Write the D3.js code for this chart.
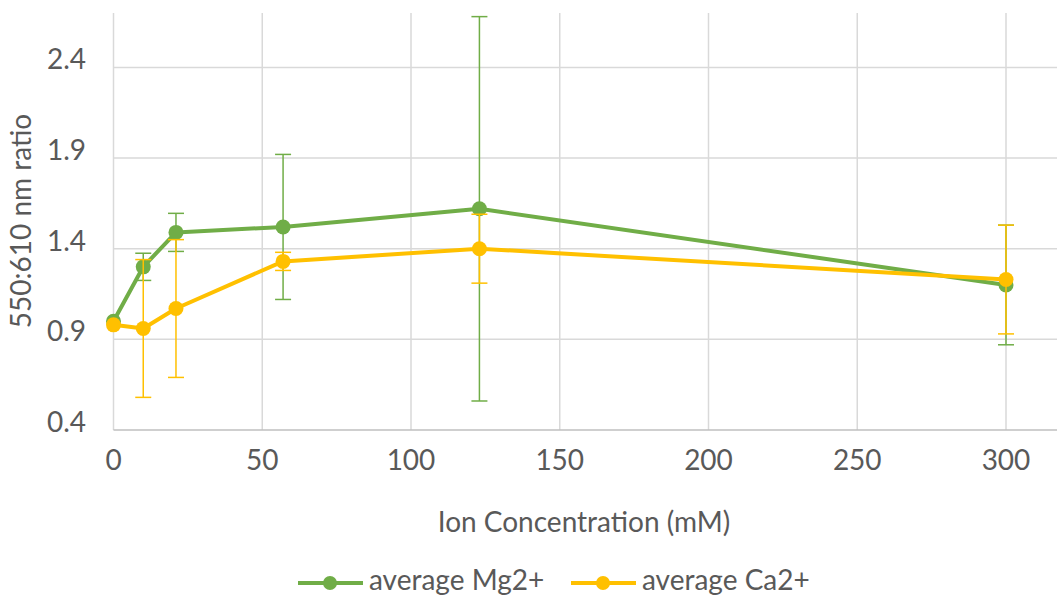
<!DOCTYPE html>
<html>
<head>
<meta charset="utf-8">
<script src="https://cdn.jsdelivr.net/npm/d3@7"></script>
<style>
  html, body { margin: 0; padding: 0; background: #fff; }
  text { font-family: Lato, "Open Sans", sans-serif; fill: #595959; }
</style>
</head>
<body>
<svg id="chart" width="1057" height="600"></svg>
<script>

// DATA
// --------------------------------------------------------------------------

var concentrations = [0, 10, 21, 57, 123, 300];

var mgMeans  = [1.00, 1.30, 1.49, 1.52, 1.62, 1.20];
var mgErrors = [0.00, 0.075, 0.105, 0.40, 1.06, 0.33];

var caMeans  = [0.98, 0.96, 1.07, 1.33, 1.40, 1.23];
var caErrors = [0.00, 0.38, 0.38, 0.05, 0.19, 0.30];

var xTicks = [0, 50, 100, 150, 200, 250, 300];
var yTicks = [0.4, 0.9, 1.4, 1.9, 2.4];

var seriesNames = ['average Mg2+', 'average Ca2+'];
var seriesColors = ['#70AD47', '#FFC000'];


// LAYOUT
// --------------------------------------------------------------------------

var svg = d3.select('#chart');

var plotLeft = 113.5, plotTop = 13, plotBottom = 430;
var xPer = (1006 - plotLeft) / 300;
var fontSize = 28;

var x = d3.scaleLinear().domain([0, 320]).range([plotLeft, plotLeft + 320 * xPer]);
var y = d3.scaleLinear().domain([0.4, 2.7]).range([plotBottom, plotTop]);

var series = seriesNames.map(function(name, i) {
  var means = i == 0 ? mgMeans : caMeans;
  var errs = i == 0 ? mgErrors : caErrors;
  return {
    name: name,
    color: seriesColors[i],
    points: concentrations.map(function(c, j) {
      return { x: c, y: means[j], e: errs[j] };
    })
  };
});


// GRID
// --------------------------------------------------------------------------

var grid = svg.append('g').attr('stroke', '#D9D9D9').attr('stroke-width', 1.5);

grid.selectAll('line.h').data(yTicks.slice(1)).enter().append('line')
  .attr('x1', plotLeft).attr('x2', 1057)
  .attr('y1', function(d) { return y(d); })
  .attr('y2', function(d) { return y(d); });

grid.selectAll('line.v').data(xTicks).enter().append('line')
  .attr('y1', plotTop).attr('y2', plotBottom)
  .attr('x1', function(d) { return x(d); })
  .attr('x2', function(d) { return x(d); });

// Bottom axis line.
svg.append('line')
  .attr('x1', plotLeft).attr('x2', 1057)
  .attr('y1', plotBottom).attr('y2', plotBottom)
  .attr('stroke', '#BFBFBF').attr('stroke-width', 1.5);


// TICK LABELS
// --------------------------------------------------------------------------

svg.append('g').selectAll('text').data(yTicks).enter().append('text')
  .attr('x', 86)
  .attr('y', function(d) { return y(d) - 5; })
  .attr('text-anchor', 'end')
  .attr('dominant-baseline', 'middle')
  .attr('font-size', fontSize)
  .text(d3.format('.1f'));

svg.append('g').selectAll('text').data(xTicks).enter().append('text')
  .attr('x', function(d) { return x(d); })
  .attr('y', 463)
  .attr('text-anchor', 'middle')
  .attr('dominant-baseline', 'middle')
  .attr('font-size', fontSize)
  .text(function(d) { return d; });

svg.append('text')
  .attr('x', 584).attr('y', 525)
  .attr('text-anchor', 'middle')
  .attr('dominant-baseline', 'middle')
  .attr('font-size', fontSize)
  .text('Ion Concentration (mM)');

svg.append('text')
  .attr('transform', 'translate(24,221) rotate(-90)')
  .attr('text-anchor', 'middle')
  .attr('dominant-baseline', 'middle')
  .attr('font-size', fontSize)
  .text('550:610 nm ratio');


// SERIES
// --------------------------------------------------------------------------

var line = d3.line()
  .x(function(d) { return x(d.x); })
  .y(function(d) { return y(d.y); });

series.forEach(function(s) {

  var g = svg.append('g');

  // Error bars.
  var eb = g.append('g').attr('stroke', s.color).attr('stroke-width', 1.5);
  var withErr = s.points.filter(function(d) { return d.e > 0; });

  eb.selectAll('line.bar').data(withErr).enter().append('line')
    .attr('x1', function(d) { return x(d.x); })
    .attr('x2', function(d) { return x(d.x); })
    .attr('y1', function(d) { return y(d.y - d.e); })
    .attr('y2', function(d) { return y(d.y + d.e); });

  [-1, 1].forEach(function(sign) {
    eb.selectAll('line.cap' + sign).data(withErr).enter().append('line')
      .attr('x1', function(d) { return x(d.x) - 8; })
      .attr('x2', function(d) { return x(d.x) + 8; })
      .attr('y1', function(d) { return y(d.y + sign * d.e); })
      .attr('y2', function(d) { return y(d.y + sign * d.e); });
  });

  // Line.
  g.append('path')
    .datum(s.points)
    .attr('d', line)
    .attr('fill', 'none')
    .attr('stroke', s.color)
    .attr('stroke-width', 4)
    .attr('stroke-linejoin', 'round');

  // Markers.
  g.selectAll('circle').data(s.points).enter().append('circle')
    .attr('cx', function(d) { return x(d.x); })
    .attr('cy', function(d) { return y(d.y); })
    .attr('r', 7.5)
    .attr('fill', s.color);

});


// LEGEND
// --------------------------------------------------------------------------

var legendX = [298, 571];

var legend = svg.append('g').selectAll('g').data(series).enter().append('g')
  .attr('transform', function(d, i) { return 'translate(' + legendX[i] + ',583)'; });

legend.append('line')
  .attr('x1', 0).attr('x2', 65)
  .attr('stroke', function(d) { return d.color; })
  .attr('stroke-width', 4);

legend.append('circle')
  .attr('cx', 32).attr('r', 7)
  .attr('fill', function(d) { return d.color; });

legend.append('text')
  .attr('x', 71)
  .attr('dominant-baseline', 'middle')
  .attr('font-size', fontSize)
  .text(function(d) { return d.name; });

</script>
</body>
</html>
